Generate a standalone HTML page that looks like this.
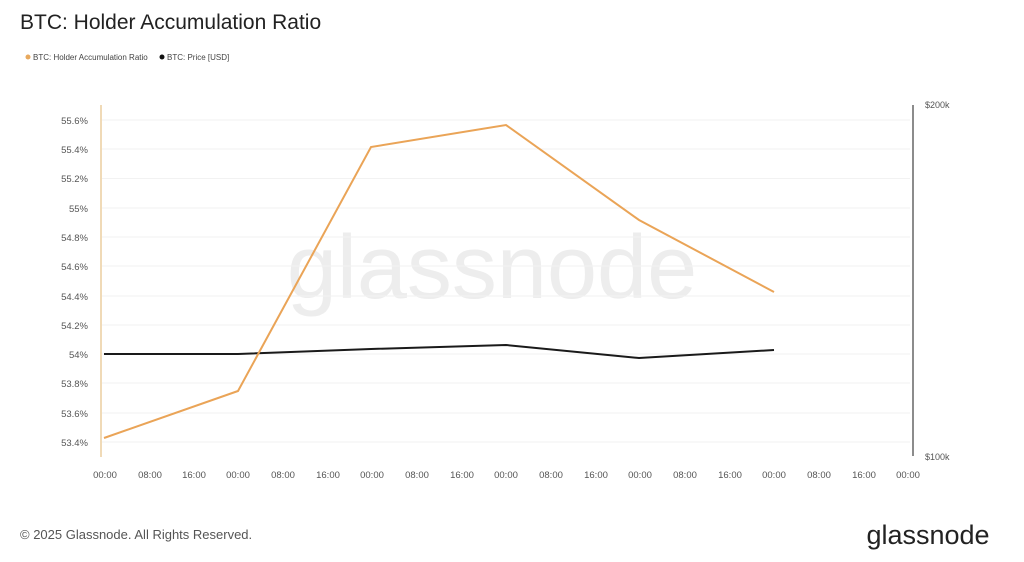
<!DOCTYPE html>
<html><head><meta charset="utf-8"><style>
body{margin:0;background:#fff;font-family:"Liberation Sans",sans-serif;}
</style></head><body>
<svg width="1024" height="557" xmlns="http://www.w3.org/2000/svg" font-family="Liberation Sans, sans-serif">
<rect width="1024" height="557" fill="#fff"/>
<text x="20" y="29" font-size="21" fill="#222">BTC: Holder Accumulation Ratio</text>
<circle cx="28" cy="57" r="2.5" fill="#e8a95e"/>
<text x="33" y="60" font-size="8" fill="#444">BTC: Holder Accumulation Ratio</text>
<circle cx="162" cy="57" r="2.5" fill="#111"/>
<text x="167" y="60" font-size="8" fill="#444">BTC: Price [USD]</text>
<text x="492" y="298" font-size="90" fill="#ededed" text-anchor="middle">glassnode</text>
<g stroke="#f2f2f2" stroke-width="1">
<line x1="102" x2="910" y1="120" y2="120"/><line x1="102" x2="910" y1="149" y2="149"/><line x1="102" x2="910" y1="178.5" y2="178.5"/><line x1="102" x2="910" y1="208" y2="208"/><line x1="102" x2="910" y1="237" y2="237"/><line x1="102" x2="910" y1="266" y2="266"/><line x1="102" x2="910" y1="296" y2="296"/><line x1="102" x2="910" y1="325" y2="325"/><line x1="102" x2="910" y1="354" y2="354"/><line x1="102" x2="910" y1="383" y2="383"/><line x1="102" x2="910" y1="413" y2="413"/><line x1="102" x2="910" y1="442" y2="442"/>
</g>
<g font-size="9.5" fill="#555" text-anchor="end">
<text x="88" y="124">55.6%</text><text x="88" y="153">55.4%</text><text x="88" y="182">55.2%</text><text x="88" y="212">55%</text><text x="88" y="241">54.8%</text><text x="88" y="270">54.6%</text><text x="88" y="300">54.4%</text><text x="88" y="329">54.2%</text><text x="88" y="358">54%</text><text x="88" y="387">53.8%</text><text x="88" y="417">53.6%</text><text x="88" y="446">53.4%</text>
</g>
<line x1="101" y1="105" x2="101" y2="457" stroke="#eccd9f" stroke-width="1.5"/>
<line x1="913" y1="105" x2="913" y2="456" stroke="#666" stroke-width="1.5"/>
<text x="925" y="108" font-size="9" fill="#555">$200k</text>
<text x="925" y="460" font-size="9" fill="#555">$100k</text>
<g font-size="9.5" fill="#555" text-anchor="middle">
<text x="105" y="478">00:00</text><text x="150" y="478">08:00</text><text x="194" y="478">16:00</text><text x="238" y="478">00:00</text><text x="283" y="478">08:00</text><text x="328" y="478">16:00</text><text x="372" y="478">00:00</text><text x="417" y="478">08:00</text><text x="462" y="478">16:00</text><text x="506" y="478">00:00</text><text x="551" y="478">08:00</text><text x="596" y="478">16:00</text><text x="640" y="478">00:00</text><text x="685" y="478">08:00</text><text x="730" y="478">16:00</text><text x="774" y="478">00:00</text><text x="819" y="478">08:00</text><text x="864" y="478">16:00</text><text x="908" y="478">00:00</text>
</g>
<polyline points="104,354 238,354 371,349 506,345 639,358 774,350" fill="none" stroke="#1a1a1a" stroke-width="2"/>
<polyline points="104,438 238,391 371,147 506,125 639,220 774,292" fill="none" stroke="#eaa457" stroke-width="2"/>
<text x="20" y="539" font-size="13" fill="#555">© 2025 Glassnode. All Rights Reserved.</text>
<text x="928" y="544" font-size="27" fill="#222" text-anchor="middle">glassnode</text>
</svg>
</body></html>
